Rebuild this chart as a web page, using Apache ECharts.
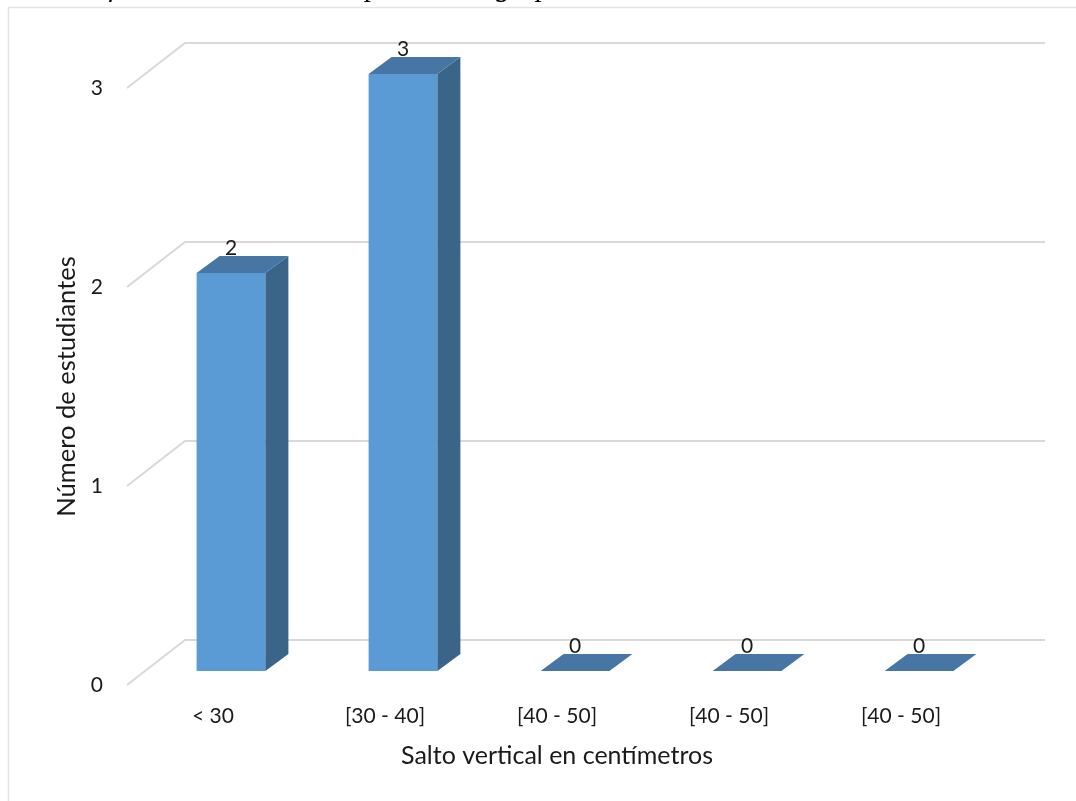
<!DOCTYPE html>
<html>
<head>
<meta charset="utf-8">
<title>Salto vertical</title>
<script src="https://cdn.jsdelivr.net/npm/echarts@6/dist/echarts.min.js"></script>
<style>
  html, body { margin: 0; padding: 0; background: #ffffff; }
  #chart { width: 1076px; height: 801px; }
</style>
</head>
<body>
<div id="chart"></div>
<script>
// Categories (vertical jump ranges) and number of students in each
const categories = ['< 30', '[30 - 40]', '[40 - 50]', '[40 - 50]', '[40 - 50]'];
const students = [2, 3, 0, 0, 0];
const valueTicks = [0, 1, 2, 3];

const titleText = 'Gráfico 3. Resultados del postest del grupo de control saltabilidad';
const yTitle = 'Número de estudiantes';
const xTitle = 'Salto vertical en centímetros';

// Colours of the 3D column faces and the wall lines
const FRONT = '#5B9BD5';
const SIDE = '#3A6488';
const TOP = '#4776A4';
const GRID_LINE = '#D9D9D9';
const TEXT = '#1a1a1a';
const FONT = 'Lato, "Noto Sans", sans-serif';

// Perspective offsets (pixels): floor depth and column depth
const WALL_DX = 58, WALL_DY = -45;
const BAR_DX = 23, BAR_DY = -17;

const chart = echarts.init(document.getElementById('chart'), null, { renderer: 'canvas' });

const option = {
  backgroundColor: '#ffffff',
  animation: false,
  graphic: [
    {
      type: 'rect',
      shape: { x: 8.5, y: 7.5, width: 1200, height: 900 },
      style: { fill: 'none', stroke: '#E3E3E3', lineWidth: 1.5 },
      silent: true, z: 0
    },
    {
      type: 'text',
      x: 62, y: 3,
      style: {
        text: titleText,
        font: 'italic 29px "Liberation Serif", "DejaVu Serif", serif',
        fill: '#000000',
        verticalAlign: 'bottom',
        align: 'left'
      },
      silent: true, z: 1
    }
  ],
  grid: [
    // front plane: carries the axis labels and titles
    { left: 127, right: 89, top: 88, bottom: 116 },
    // plane through the front faces of the columns
    { left: 145, right: 71, top: 74, bottom: 130 }
  ],
  xAxis: [
    {
      type: 'category', gridIndex: 0, data: categories,
      axisLine: { show: false }, axisTick: { show: false },
      axisLabel: { color: TEXT, fontFamily: FONT, fontSize: 21, margin: 21 },
      name: xTitle, nameLocation: 'middle', nameGap: 58,
      nameTextStyle: { color: TEXT, fontFamily: FONT, fontSize: 25 }
    },
    {
      type: 'category', gridIndex: 1, data: categories, show: false
    }
  ],
  yAxis: [
    {
      type: 'value', gridIndex: 0, min: 0, max: 3, interval: 1,
      splitLine: { show: false }, axisLine: { show: false }, axisTick: { show: false },
      axisLabel: { color: TEXT, fontFamily: FONT, fontSize: 21, margin: 24 },
      name: yTitle, nameLocation: 'middle', nameGap: 45, nameRotate: 90,
      nameTextStyle: { color: TEXT, fontFamily: FONT, fontSize: 25.5 }
    },
    {
      type: 'value', gridIndex: 1, min: 0, max: 3, interval: 1, show: false
    }
  ],
  series: [
    {
      // floor-to-back-wall grid lines at each value tick
      type: 'custom',
      xAxisIndex: 0, yAxisIndex: 0,
      z: 1,
      silent: true,
      data: valueTicks.map(t => [0, t]),
      encode: { x: 0, y: 1 },
      renderItem: function (params, api) {
        const v = api.value(1);
        const band = api.size([1, 0])[0];
        const left = api.coord([0, v]);
        const right = api.coord([categories.length - 1, v]);
        const x0 = left[0] - band / 2;
        const x1 = right[0] + band / 2;
        const y = left[1];
        return {
          type: 'polyline',
          shape: { points: [[x0, y], [x0 + WALL_DX, y + WALL_DY], [x1 + WALL_DX, y + WALL_DY]] },
          style: { stroke: GRID_LINE, lineWidth: 2, fill: null }
        };
      }
    },
    {
      // 3D columns with their value labels
      type: 'custom',
      xAxisIndex: 1, yAxisIndex: 1,
      z: 3,
      data: students.map((v, i) => [i, v]),
      encode: { x: 0, y: 1 },
      renderItem: function (params, api) {
        const idx = api.value(0);
        const v = api.value(1);
        const base = api.coord([idx, 0]);
        const top = api.coord([idx, v]);
        const bw = api.size([1, 0])[0] * 0.4;
        const x0 = base[0] - bw / 2, x1 = base[0] + bw / 2;
        const yb = base[1], yt = top[1];
        const children = [];
        if (yb - yt > 0.5) {
          children.push({
            type: 'polygon',
            shape: { points: [[x0, yt], [x1, yt], [x1, yb], [x0, yb]] },
            style: { fill: FRONT }
          });
          children.push({
            type: 'polygon',
            shape: { points: [[x1, yt], [x1 + BAR_DX, yt + BAR_DY], [x1 + BAR_DX, yb + BAR_DY], [x1, yb]] },
            style: { fill: SIDE }
          });
        }
        children.push({
          type: 'polygon',
          shape: { points: [[x0, yt], [x1, yt], [x1 + BAR_DX, yt + BAR_DY], [x0 + BAR_DX, yt + BAR_DY]] },
          style: { fill: TOP }
        });
        children.push({
          type: 'text',
          x: base[0],
          y: yt + BAR_DY + 3,
          style: {
            text: String(v),
            fill: TEXT,
            font: '21px ' + FONT,
            align: 'center',
            verticalAlign: 'bottom'
          }
        });
        return { type: 'group', children: children };
      }
    }
  ]
};

chart.setOption(option);
</script>
</body>
</html>
